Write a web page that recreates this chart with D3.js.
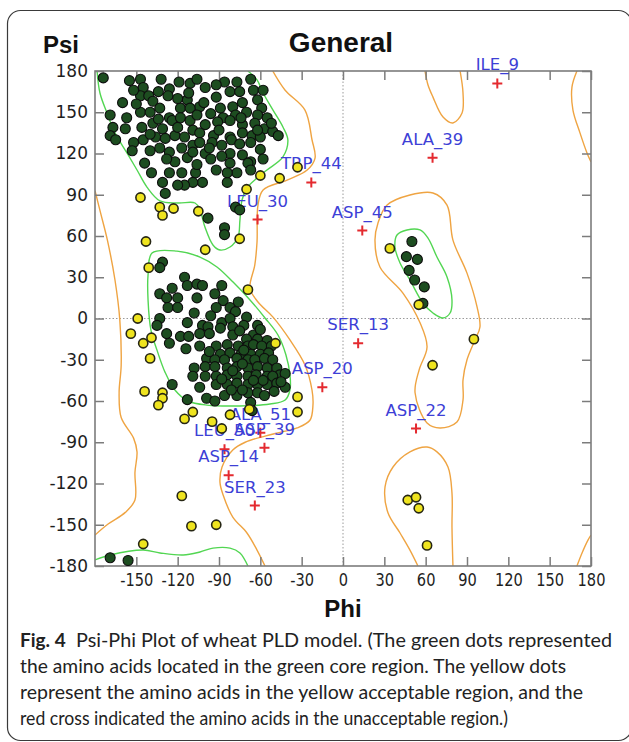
<!DOCTYPE html>
<html>
<head>
<meta charset="utf-8">
<script src="https://cdn.jsdelivr.net/npm/d3@7"></script>
<style>
  body { margin: 0; background: #fff; }
</style>
</head>
<body>
<div id="chart"></div>
<script>
'use strict';

// tick labels
var phiLabels = [-150, -120, -90, -60, -30, 0, 30, 60, 90, 120, 150, 180];
var psiLabels = [180, 150, 120, 90, 60, 30, 0, -30, -60, -90, -120, -150, -180];

// residues in the core (green) region, [phi, psi]
var coreDots = [
  [-174,175],[-155,173],[-147,174],[-132,174],[-145,168],[-126,167],[-111,171],[-106,174],
  [-147,162],[-141,162],[-134,165],[-127,162],[-113,159],[-138,158],[-104,154],
  [-169,148],[-157,146],[-147,150],[-140,150],[-133,153],[-126,146],[-118,153],[-111,153],
  [-167,139],[-146,139],[-138,142],[-131,138],[-124,144],[-118,146],[-111,144],
  [-169,133],[-165,130],[-152,128],[-145,130],[-136,132],[-129,131],[-122,133],[-115,132],[-109,137],
  [-153,122],[-140,122],[-133,124],[-126,121],[-117,124],[-109,126],
  [-122,114],[-113,117],
  [-139,106],[-126,106],[-117,106],[-107,106],
  [-100,168],[-77,172],[-67,174],[-82,165],[-75,165],[-65,166],
  [-101,157],[-89,153],[-80,154],[-73,157],[-62,159],[-59,153],
  [-106,148],[-96,149],[-87,146],[-78,148],[-70,150],[-62,148],[-55,146],
  [-100,141],[-91,143],[-82,144],[-73,141],[-64,142],[-57,138],[-51,136],[-47,133],
  [-104,135],[-94,133],[-82,132],[-73,135],[-66,133],[-60,132],
  [-95,128],[-81,130],[-67,128],
  [-109,121],[-100,120],[-82,120],[-73,119],[-67,114],
  [-106,112],[-82,113],[-77,106],[-69,113],
  [-102,99],[-109,99],[-115,97],[-131,99],[-129,91],[-84,99],[-84,106],[-67,108],
  [-150,156],[-120,160],[-92,161],[-86,172],[-58,166],[-140,134],[-158,138],[-120,139],
  [-97,124],[-88,126],[-90,137],[-75,127],[-60,123],[-58,116],[-92,108],[-96,116],
  [-120,97],[-144,113],[-112,164],[-119,172],[-92,170],[-152,166],[-160,157],[-134,145],
  [-104,128],[-88,118],[-74,146],[-128,116],[-52,142],[-62,137],
  [-98,73],[-86,66],[-86,61],[-78,81],[-75,79],
  [-131,41],[-133,37],[-115,30],[-113,24],[-106,25],[-102,24],[-88,24],
  [-133,18],[-124,22],[-128,15],[-120,15],[-106,15],[-93,18],[-87,13],[-76,12],
  [-127,8],[-120,8],[-92,8],[-82,8],[-78,5],[-70,1],
  [-133,0],[-113,-3],[-102,-5],[-98,-6],[-88,-3],[-82,0],
  [-135,-5],[-89,-7],[-80,-6],[-72,-5],[-62,-5],
  [-128,-11],[-118,-13],[-112,-13],[-104,-11],[-97,-11],[-80,-12],[-75,-9],[-65,-12],[-60,-8],
  [-126,-18],[-70,-15],[-62,-15],[-55,-16],
  [-92,-20],[-84,-19],[-76,-20],[-69,-20],[-65,-19],[-59,-20],[-52,-20],
  [-89,-26],[-82,-25],[-74,-26],[-67,-26],[-60,-26],[-54,-25],
  [-99,-29],[-93,-30],[-86,-30],[-77,-29],[-69,-30],[-64,-30],[-57,-29],[-51,-30],
  [-108,-36],[-100,-35],[-93,-35],[-84,-36],[-77,-35],[-69,-36],[-62,-35],[-55,-36],[-48,-36],[-46,-41],[-42,-40],
  [-109,-42],[-100,-42],[-92,-42],[-84,-41],[-77,-42],[-69,-42],[-63,-41],[-55,-42],[-51,-42],
  [-124,-48],[-92,-48],[-84,-48],[-77,-47],[-69,-48],[-62,-48],[-55,-48],[-48,-47],[-42,-50],
  [-86,-56],[-77,-56],[-69,-54],[-62,-54],[-57,-56],
  [-113,-59],[-99,-58],[-93,-60],[-67,-61],[-66,-67],
  [-96,2],[-108,4],[-114,-22],[-104,-20],[-97,-24],[-81,-52],[-73,-52],[-50,-53],[-45,-46],
  [-104,-50],[-73,-33],[-58,-45],[-80,-38],[-88,-44],[-65,-45],[-72,-23],
  [50,56],[46,45],[54,43],[48,35],[52,28],[59,23],[58,11],
  [-169,-174],[-156,-176]
];

// residues in the allowed (yellow) region
var allowedDots = [
  [-147,88],[-133,81],[-131,75],[-123,80],[-105,78],[-75,58],[-100,50],[-143,56],[-141,37],[-69,21],
  [-149,0],[-154,-11],[-145,-18],[-139,-14],[-140,-29],[-49,-18],
  [-144,-53],[-131,-54],[-131,-58],[-134,-63],[-115,-73],[-109,-68],[-95,-75],[-88,-80],[-82,-70],[-68,-66],
  [-33,-57],[-33,-68],
  [-117,-129],[-110,-151],[-92,-150],[-145,-164],
  [-60,104],[-46,102],[-33,110],[-70,94],
  [34,51],[55,10],[95,-15],[65,-34],[47,-132],[53,-130],[55,-138],[61,-165]
];

// residues in the disallowed region
var outlierNames = ['ILE_9','ALA_39','TRP_44','LEU_30','ASP_45','SER_13','ASP_20','ASP_22','ALA_51','ASP_39','LEU_50','ASP_14','SER_23'];
var outlierPhi   = [112, 65, -23, -62, 14, 11, -15, 53, -60, -57, -86, -83, -64];
var outlierPsi   = [171, 117, 99, 72, 64, -18, -50, -80, -83, -94, -95, -114, -136];

// allowed-region contours (orange)
var allowedLeftEdge = [[-180,93],[-176,77],[-171,57],[-165.5,28],[-162,-1],[-161,-34],[-162.5,-54],[-161,-72],[-152,-87],[-149.5,-97],[-151,-112],[-151,-132],[-158,-141],[-170.5,-149.5],[-180,-157.5]];
var allowedRightEdge = [[-51,180],[-42,166],[-27.6,151.6],[-22.5,130],[-20.3,116.7],[-26,108],[-40.6,100.7],[-58,93.5],[-61.7,82.5],[-62.4,55.6],[-64,39],[-67.5,22],[-61.7,12],[-50.8,1],[-38.5,-15.6],[-27.6,-33.8],[-22.5,-52],[-21.8,-63],[-24,-74],[-33.4,-79.6],[-44.3,-82.5],[-56.6,-85.5],[-71,-90],[-80,-95.6],[-87.8,-108],[-89.3,-119],[-87,-128.4],[-80,-144.4],[-69.7,-156],[-62.4,-168.4],[-56.6,-180]];
var allowedTopU = [[59.5,180],[61.7,169.8],[65.3,161],[72.6,146.5],[79.8,142.2],[86.4,149.5],[87.1,164],[85,180]];
var allowedRightLoop = [[25.4,69.5],[32,82.5],[48.6,89.8],[65.3,91.3],[75.5,82.5],[79.8,57],[90,33],[97.3,8.4],[99.4,-6.2],[95.8,-15.6],[90,-30],[87.1,-44.7],[87.1,-59.3],[82.7,-75.3],[70.4,-79.6],[61,-76],[52.3,-54],[55.2,-37.5],[61,-20.7],[56,-3.3],[43.5,18.5],[26.8,37.5],[23.2,57]];
var allowedBottomLoop = [[54.4,-180],[48.6,-168.4],[41.4,-156],[32.7,-141.5],[30.5,-122.5],[36.3,-108],[48.6,-97],[61,-93.5],[68.2,-97],[76.2,-108],[79.1,-127],[79.1,-151.6],[79.8,-180]];
var allowedTopRight = [[169.8,180],[166.2,168.4],[166.9,151.6],[172,135],[177.1,120.4],[180,113.8]];
var allowedBottomRight = [[169.8,-180],[173.5,-170.5],[177.9,-161],[180,-157.5]];

// core-region contours (green)
var coreBeta = [[-178.5,180],[-176.4,164],[-171.3,149.5],[-165.5,135],[-156.8,120.4],[-149.5,108],[-142.3,95.6],[-132.8,85.5],[-119.8,84],[-107.4,84],[-103.8,79],[-100.2,66.5],[-94.4,53.5],[-89.3,49.8],[-82,52],[-76.2,59.3],[-74.8,71.6],[-73.3,86.2],[-69.7,95],[-62.4,102.2],[-55.2,108],[-43.6,117.5],[-40,129.8],[-43.6,139.3],[-50.8,151.6],[-58,164],[-62.4,173.5],[-69,180]];
var coreBetaBottom = [[-180,-175.6],[-169,-172],[-145,-168.4],[-132.8,-170.5],[-116,-172],[-103.8,-169.8],[-94.4,-167],[-82,-167],[-74.8,-170.5],[-69,-180]];
var coreAlpha = [[-138.6,47.6],[-120.5,49],[-103.8,44.7],[-91.5,37.5],[-79.8,26.5],[-67.5,13.5],[-56.6,0.4],[-47.2,-12],[-41.4,-26.5],[-38.5,-41],[-38.5,-52],[-42,-59.3],[-53,-62.2],[-74.8,-63.6],[-98.7,-63],[-112.5,-60],[-122,-52],[-129.2,-39],[-135,-23],[-139.4,-8.4],[-141.5,13.5],[-141.5,31.6]];
var coreLeftHanded = [[39.2,60.7],[46.4,64.4],[55.9,64.4],[61.7,58.5],[68.2,44.7],[75.5,30.2],[79.1,13.5],[77.7,4],[72.6,0.4],[65.3,4],[58,11.3],[48.6,28],[41.4,40.4],[37.7,52]];

var captionLines = [
  'Psi-Phi Plot of wheat PLD model. (The green dots represented',
  'the amino acids located in the green core region. The yellow dots',
  'represent the amino acids in the yellow acceptable region, and the',
  'red cross indicated the amino acids in the unacceptable region.)'
];

var W = 629, H = 742;
var svg = d3.select('#chart').append('svg')
  .attr('width', W)
  .attr('height', H)
  .attr('viewBox', [0, 0, W, H]);

svg.append('rect')
  .attr('x', 7.5).attr('y', 10.5)
  .attr('width', 624).attr('height', 730)
  .attr('rx', 13)
  .attr('fill', '#fff')
  .attr('stroke', '#3a3a3a')
  .attr('stroke-width', 1.2);

var x = d3.scaleLinear().domain([-180, 180]).range([95, 591]);
var y = d3.scaleLinear().domain([-180, 180]).range([566, 71]);

svg.append('clipPath').attr('id', 'plot-clip')
  .append('rect')
  .attr('x', x(-180)).attr('y', y(180))
  .attr('width', x(180) - x(-180)).attr('height', y(-180) - y(180));

var plot = svg.append('g');

// zero lines
plot.append('line')
  .attr('x1', x(0)).attr('x2', x(0)).attr('y1', y(180)).attr('y2', y(-180))
  .attr('stroke', '#9a9a9a').attr('stroke-width', 1).attr('stroke-dasharray', '1.5,2');
plot.append('line')
  .attr('x1', x(-180)).attr('x2', x(180)).attr('y1', y(0)).attr('y2', y(0))
  .attr('stroke', '#9a9a9a').attr('stroke-width', 1).attr('stroke-dasharray', '1.5,2');

var openLine = d3.line()
  .x(function (d) { return x(d[0]); })
  .y(function (d) { return y(d[1]); })
  .curve(d3.curveCatmullRom.alpha(0.5));
var closedLine = d3.line()
  .x(function (d) { return x(d[0]); })
  .y(function (d) { return y(d[1]); })
  .curve(d3.curveCatmullRomClosed.alpha(0.5));

var contours = plot.append('g').attr('clip-path', 'url(#plot-clip)').attr('fill', 'none');
var orange = '#efa442', green = '#52d652';

[allowedLeftEdge, allowedRightEdge, allowedTopU, allowedBottomLoop, allowedTopRight, allowedBottomRight].forEach(function (pts) {
  contours.append('path').attr('d', openLine(pts))
    .attr('stroke', orange).attr('stroke-width', 1.4);
});
contours.append('path').attr('d', closedLine(allowedRightLoop))
  .attr('stroke', orange).attr('stroke-width', 1.4);

[coreBeta, coreBetaBottom].forEach(function (pts) {
  contours.append('path').attr('d', openLine(pts))
    .attr('stroke', green).attr('stroke-width', 1.4);
});
[coreAlpha, coreLeftHanded].forEach(function (pts) {
  contours.append('path').attr('d', closedLine(pts))
    .attr('stroke', green).attr('stroke-width', 1.4);
});

// axes: ticks point inwards, labels only on left and bottom
var tickColor = '#7c7c7c';
function styleAxis(g) {
  g.select('.domain').remove();
  g.selectAll('.tick line').attr('stroke', tickColor).attr('stroke-width', 1.5);
  g.attr('font-family', 'DejaVu Sans, sans-serif').attr('font-size', 17);
  g.selectAll('.tick text').attr('fill', '#1e1e1e');
}

var fmt = function (d) { return String(d); };

svg.append('g')
  .attr('transform', 'translate(0,' + y(-180) + ')')
  .call(d3.axisBottom(x).tickValues(phiLabels).tickSizeInner(-9).tickSizeOuter(0).tickPadding(8).tickFormat(fmt))
  .call(styleAxis)
  .call(function (g) { g.selectAll('.tick text').attr('transform', 'scale(0.86,1)'); });

svg.append('g')
  .attr('transform', 'translate(0,' + y(180) + ')')
  .call(d3.axisTop(x).tickValues(phiLabels).tickSizeInner(-9).tickSizeOuter(0).tickFormat(''))
  .call(styleAxis);

svg.append('g')
  .attr('transform', 'translate(' + x(-180) + ',0)')
  .call(d3.axisLeft(y).tickValues(psiLabels).tickSizeInner(-9).tickSizeOuter(0).tickPadding(7).tickFormat(fmt))
  .call(styleAxis);

svg.append('g')
  .attr('transform', 'translate(' + x(180) + ',0)')
  .call(d3.axisRight(y).tickValues(psiLabels).tickSizeInner(-9).tickSizeOuter(0).tickFormat(''))
  .call(styleAxis);

svg.append('rect')
  .attr('x', x(-180)).attr('y', y(180))
  .attr('width', x(180) - x(-180)).attr('height', y(-180) - y(180))
  .attr('fill', 'none')
  .attr('stroke', tickColor)
  .attr('stroke-width', 1.6);

// outliers: red cross + blue residue label (labels sit under the dots, as in the original)
var outliers = outlierNames.map(function (n, i) {
  return { name: n, phi: outlierPhi[i], psi: outlierPsi[i] };
});

var out = svg.append('g').selectAll('g')
  .data(outliers)
  .join('g')
  .attr('transform', function (d) { return 'translate(' + x(d.phi) + ',' + y(d.psi) + ')'; });

out.append('text')
  .text(function (d) { return d.name; })
  .attr('y', -13)
  .attr('text-anchor', 'middle')
  .attr('font-family', 'DejaVu Sans, sans-serif')
  .attr('font-size', 16.5)
  .attr('fill', '#3d3fd6');

out.append('path')
  .attr('d', 'M-5,0H5M0,-5V5')
  .attr('stroke', '#e42a2f')
  .attr('stroke-width', 2);

// dots
svg.append('g')
  .selectAll('circle')
  .data(coreDots)
  .join('circle')
  .attr('cx', function (d) { return x(d[0]); })
  .attr('cy', function (d) { return y(d[1]); })
  .attr('r', 5)
  .attr('fill', '#1d4d20')
  .attr('stroke', '#0d0d0d')
  .attr('stroke-width', 1.1);

svg.append('g')
  .selectAll('circle')
  .data(allowedDots)
  .join('circle')
  .attr('cx', function (d) { return x(d[0]); })
  .attr('cy', function (d) { return y(d[1]); })
  .attr('r', 4.6)
  .attr('fill', '#efe41f')
  .attr('stroke', '#262614')
  .attr('stroke-width', 1.6);

// titles
svg.append('text')
  .text('General')
  .attr('x', 341).attr('y', 52)
  .attr('text-anchor', 'middle')
  .attr('font-family', 'Liberation Sans, Arial, sans-serif')
  .attr('font-weight', 'bold')
  .attr('font-size', 28)
  .attr('fill', '#111');

svg.append('text')
  .text('Psi')
  .attr('x', 43).attr('y', 53)
  .attr('font-family', 'Liberation Sans, Arial, sans-serif')
  .attr('font-weight', 'bold')
  .attr('font-size', 24)
  .attr('fill', '#111');

svg.append('text')
  .text('Phi')
  .attr('x', x(0)).attr('y', 617)
  .attr('text-anchor', 'middle')
  .attr('font-family', 'Liberation Sans, Arial, sans-serif')
  .attr('font-weight', 'bold')
  .attr('font-size', 24)
  .attr('fill', '#111');

// caption
var capX = 20, capStartFirst = 76;
var capEnds = [612, 566, 583, 508];
var capBase = [647, 673, 699, 725];

svg.append('text')
  .text('Fig. 4')
  .attr('x', capX).attr('y', capBase[0])
  .attr('font-family', 'Lato, Open Sans, sans-serif')
  .attr('font-weight', 'bold')
  .attr('font-size', 19)
  .attr('fill', '#222');

captionLines.forEach(function (t, i) {
  var x0 = i === 0 ? capStartFirst : capX;
  svg.append('text')
    .text(t)
    .attr('x', x0).attr('y', capBase[i])
    .attr('font-family', 'Lato, Open Sans, sans-serif')
    .attr('font-size', 19)
    .attr('fill', '#222')
    .attr('textLength', capEnds[i] - x0)
    .attr('lengthAdjust', 'spacingAndGlyphs');
});
</script>
</body>
</html>
